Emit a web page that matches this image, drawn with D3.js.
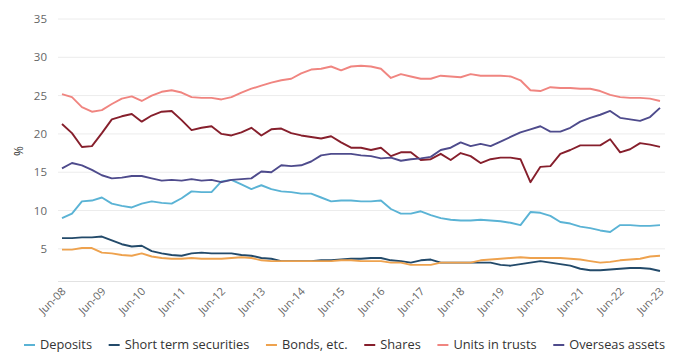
<!DOCTYPE html>
<html>
<head>
<meta charset="utf-8">
<script src="https://cdn.jsdelivr.net/npm/d3@7"></script>
<style>
  html, body { margin: 0; padding: 0; background: #fff; }
  svg { display: block; font-family: "Open Sans", "Noto Sans", sans-serif; }
</style>
</head>
<body>
<svg id="chart" width="675" height="354"></svg>
<script>
// Quarterly periods, Jun-08 to Jun-23
const quarters = [
  "Jun-08","Sep-08","Dec-08","Mar-09","Jun-09","Sep-09","Dec-09","Mar-10",
  "Jun-10","Sep-10","Dec-10","Mar-11","Jun-11","Sep-11","Dec-11","Mar-12",
  "Jun-12","Sep-12","Dec-12","Mar-13","Jun-13","Sep-13","Dec-13","Mar-14",
  "Jun-14","Sep-14","Dec-14","Mar-15","Jun-15","Sep-15","Dec-15","Mar-16",
  "Jun-16","Sep-16","Dec-16","Mar-17","Jun-17","Sep-17","Dec-17","Mar-18",
  "Jun-18","Sep-18","Dec-18","Mar-19","Jun-19","Sep-19","Dec-19","Mar-20",
  "Jun-20","Sep-20","Dec-20","Mar-21","Jun-21","Sep-21","Dec-21","Mar-22",
  "Jun-22","Sep-22","Dec-22","Mar-23","Jun-23"
];

// Share of assets, % (one value per quarter)
const deposits = [
  9.0, 9.6, 11.2, 11.3, 11.7, 10.9, 10.6, 10.4, 10.9, 11.2, 11.0, 10.9, 11.6, 12.5, 12.4, 12.4,
  13.8, 14.0, 13.4, 12.8, 13.3, 12.8, 12.5, 12.4, 12.2, 12.2, 11.7, 11.2, 11.3, 11.3, 11.2,
  11.2, 11.3, 10.2, 9.6, 9.6, 9.9, 9.4, 9.0, 8.8, 8.7, 8.7, 8.8, 8.7, 8.6, 8.4,
  8.1, 9.8, 9.7, 9.3, 8.5, 8.3, 7.9, 7.7, 7.4, 7.2, 8.1, 8.1, 8.0, 8.0, 8.1
];
const shortTermSecurities = [
  6.4, 6.4, 6.5, 6.5, 6.6, 6.1, 5.6, 5.3, 5.4, 4.7, 4.4, 4.2, 4.1, 4.4, 4.5, 4.4,
  4.4, 4.4, 4.2, 4.1, 3.8, 3.7, 3.4, 3.4, 3.4, 3.4, 3.5, 3.5, 3.6, 3.7, 3.7,
  3.8, 3.8, 3.5, 3.4, 3.2, 3.5, 3.6, 3.2, 3.2, 3.2, 3.2, 3.2, 3.2, 2.9, 2.8,
  3.0, 3.2, 3.4, 3.2, 3.0, 2.8, 2.4, 2.2, 2.2, 2.3, 2.4, 2.5, 2.5, 2.4, 2.1
];
const bonds = [
  4.9, 4.9, 5.1, 5.1, 4.5, 4.4, 4.2, 4.1, 4.4, 4.0, 3.8, 3.7, 3.7, 3.8, 3.7, 3.7,
  3.7, 3.8, 3.9, 3.8, 3.5, 3.4, 3.4, 3.4, 3.4, 3.4, 3.4, 3.4, 3.5, 3.5, 3.4,
  3.4, 3.4, 3.2, 3.2, 2.9, 2.9, 2.9, 3.2, 3.2, 3.2, 3.2, 3.5, 3.6, 3.7, 3.8,
  3.9, 3.8, 3.8, 3.8, 3.8, 3.7, 3.6, 3.4, 3.2, 3.3, 3.5, 3.6, 3.7, 4.0, 4.1
];
const shares = [
  21.3, 20.1, 18.3, 18.4, 20.1, 21.9, 22.3, 22.6, 21.6, 22.4, 22.9, 23.0, 21.8, 20.5, 20.8, 21.0,
  20.0, 19.8, 20.2, 20.8, 19.8, 20.6, 20.7, 20.1, 19.8, 19.6, 19.4, 19.7, 18.9, 18.2, 18.2,
  17.9, 18.2, 17.1, 17.6, 17.6, 16.6, 16.7, 17.4, 16.6, 17.5, 17.1, 16.2, 16.7, 16.9, 16.9,
  16.7, 13.7, 15.7, 15.8, 17.4, 17.9, 18.5, 18.5, 18.5, 19.3, 17.6, 18.0, 18.8, 18.6, 18.3
];
const unitsInTrusts = [
  25.2, 24.8, 23.5, 22.9, 23.1, 23.9, 24.6, 24.9, 24.3, 25.0, 25.5, 25.7, 25.4, 24.8, 24.7, 24.7,
  24.5, 24.8, 25.4, 25.9, 26.3, 26.7, 27.0, 27.2, 27.9, 28.4, 28.5, 28.8, 28.3, 28.8, 28.9,
  28.8, 28.5, 27.3, 27.8, 27.5, 27.2, 27.2, 27.6, 27.5, 27.4, 27.8, 27.6, 27.6, 27.6, 27.5,
  27.0, 25.7, 25.6, 26.1, 26.0, 26.0, 25.9, 25.9, 25.6, 25.1, 24.8, 24.7, 24.7, 24.6, 24.3
];
const overseasAssets = [
  15.5, 16.2, 15.9, 15.3, 14.6, 14.2, 14.3, 14.5, 14.5, 14.2, 13.9, 14.0, 13.9, 14.1, 13.9, 14.0,
  13.7, 14.0, 14.1, 14.2, 15.1, 15.0, 15.9, 15.8, 15.9, 16.4, 17.2, 17.4, 17.4, 17.4, 17.2,
  17.1, 16.8, 16.9, 16.5, 16.7, 16.8, 17.0, 17.9, 18.2, 18.9, 18.4, 18.7, 18.4, 19.0, 19.6,
  20.2, 20.6, 21.0, 20.3, 20.3, 20.8, 21.6, 22.1, 22.5, 23.0, 22.1, 21.9, 21.7, 22.2, 23.4
];

const seriesNames = ["Deposits", "Short term securities", "Bonds, etc.", "Shares", "Units in trusts", "Overseas assets"];
const seriesValues = [deposits, shortTermSecurities, bonds, shares, unitsInTrusts, overseasAssets];
const seriesColors = ["#5ab3d5", "#234a6a", "#eea24e", "#861f2c", "#f08580", "#4e4b8c"];

const yTicks = [5, 10, 15, 20, 25, 30, 35];
const xTickLabels = quarters.filter(q => q.startsWith("Jun"));

const svg = d3.select("#chart");

const x = d3.scalePoint().domain(quarters).range([62, 660]);
const y = d3.scaleLinear().domain([0.8, 35]).range([281, 19]);

// Horizontal grid
svg.append("g")
  .selectAll("line")
  .data(yTicks)
  .join("line")
  .attr("x1", 58).attr("x2", 665)
  .attr("y1", d => y(d)).attr("y2", d => y(d))
  .attr("stroke", "#ececec").attr("stroke-width", 1);

// Y axis labels
const yAxis = svg.append("g")
  .attr("transform", "translate(47,0)")
  .call(d3.axisLeft(y).tickValues(yTicks).tickSize(0).tickPadding(0));
yAxis.select(".domain").remove();
yAxis.selectAll("text")
  .attr("fill", "#666").attr("font-size", 11.5)
  .attr("font-family", "Open Sans, sans-serif");

// X axis
const xAxis = svg.append("g")
  .attr("transform", "translate(0,281)")
  .call(d3.axisBottom(x).tickValues(xTickLabels).tickSize(0).tickPadding(0));
xAxis.select(".domain")
  .attr("d", "M58,0.5H665")
  .attr("stroke", "#e2e2e2");
xAxis.selectAll("text")
  .attr("fill", "#666").attr("font-size", 11)
  .attr("font-family", "Open Sans, sans-serif")
  .attr("text-anchor", "end")
  .attr("dy", null)
  .attr("transform", "translate(4,11) rotate(-45)");

// Y axis title
svg.append("text")
  .attr("transform", "translate(23,151) rotate(-90)")
  .attr("text-anchor", "middle")
  .attr("font-size", 12)
  .attr("fill", "#333")
  .text("%");

// Lines
const line = d3.line()
  .x((d, i) => x(quarters[i]))
  .y(d => y(d));

svg.append("g")
  .selectAll("path")
  .data(seriesValues)
  .join("path")
  .attr("d", d => line(d))
  .attr("fill", "none")
  .attr("stroke", (d, i) => seriesColors[i])
  .attr("stroke-width", 1.9)
  .attr("stroke-linejoin", "round");

// Legend: items spread evenly between the left and right edges
const legendLeft = 24, legendRight = 665, swatch = 11, swatchGap = 5;
const legend = svg.append("g").attr("transform", "translate(0,345)");
const items = seriesNames.map((name, i) => {
  const g = legend.append("g");
  g.append("line")
    .attr("x1", 0).attr("x2", swatch)
    .attr("y1", 0).attr("y2", 0)
    .attr("stroke", seriesColors[i]).attr("stroke-width", 2);
  const t = g.append("text")
    .attr("x", swatch + swatchGap).attr("y", 0).attr("dy", "0.35em")
    .attr("font-size", 12.8).attr("fill", "#333")
    .text(name);
  return { g, w: swatch + swatchGap + t.node().getComputedTextLength() };
});
const used = d3.sum(items, d => d.w);
const gap = (legendRight - legendLeft - used) / (items.length - 1);
let lx = legendLeft;
items.forEach(d => {
  d.g.attr("transform", `translate(${lx},0)`);
  lx += d.w + gap;
});
</script>
</body>
</html>
